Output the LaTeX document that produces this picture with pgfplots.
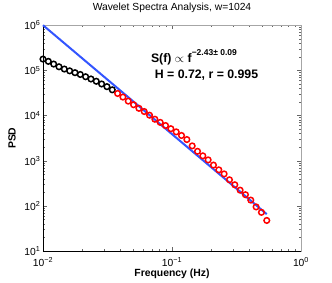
\documentclass[border=0pt]{standalone}
\usepackage{fontspec}
\setmainfont{Liberation Sans}
\usepackage{pgfplots}
\pgfplotsset{compat=1.18}
\definecolor{fitblue}{RGB}{51,85,255}
\begin{document}
\begin{tikzpicture}[x=1pt,y=1pt]
\path (-43,-31) rectangle (289,247);
\begin{axis}[
  at={(0,0)}, anchor=south west,
  scale only axis, width=258pt, height=226pt,
  xmode=log, ymode=log,
  xmin=0.01, xmax=1, ymin=10, ymax=1e6,
  tick align=inside, xtick pos=both, ytick pos=both,
  major tick length=4pt, minor tick length=2pt,
  tick style={gray!80!black, line width=0.5pt},
  xtick={0.01,0.1,1},
  xticklabels={10\textsuperscript{\textminus2},10\textsuperscript{\textminus1},10\textsuperscript{0}},
  ytick={10,100,1000,10000,100000,1000000},
  yticklabels={10\textsuperscript{1},10\textsuperscript{2},10\textsuperscript{3},10\textsuperscript{4},10\textsuperscript{5},10\textsuperscript{6}},
  tick label style={font=\fontsize{10.3}{11}\selectfont},
  xticklabel style={yshift=-3pt},
  yticklabel style={xshift=1pt},
  title={Wavelet Spectra Analysis, w=1024},
  title style={font=\fontsize{10.3}{11}\selectfont, at={(axis description cs:0.5,1.049)}, anchor=center},
  xlabel={\textbf{Frequency (Hz)}},
  xlabel style={font=\fontsize{10.4}{11}\selectfont, at={(axis description cs:0.5,-0.102)}, anchor=center},
  ylabel={\textbf{PSD}},
  ylabel style={font=\fontsize{10.4}{11}\selectfont, at={(axis description cs:-0.12,0.5)}, anchor=center},
  axis line style={gray!70, line width=0.6pt},
  clip=false,
]
\draw[black, line width=0.7pt] (rel axis cs:1,0) -- (rel axis cs:0,0) -- (rel axis cs:0,1);
\addplot[only marks, mark=o, mark size=2.8pt, mark options={line width=1.5pt, draw=black}] coordinates {
(0.01000,1.78e5) (0.01100,1.585e5) (0.01210,1.380e5) (0.01330,1.202e5) (0.01463,1.072e5)
(0.01609,9.77e4) (0.01770,8.91e4) (0.01946,8.13e4) (0.02140,7.24e4) (0.02354,6.46e4)
(0.02588,5.75e4) (0.02847,5.01e4) (0.03131,4.37e4) (0.03444,3.72e4)
};
\addplot[only marks, mark=o, mark size=2.8pt, mark options={line width=1.5pt, draw=red}] coordinates {
(0.03787,3.09e4) (0.04165,2.57e4) (0.04580,2.09e4) (0.05036,1.74e4) (0.05539,1.45e4)
(0.06091,1.23e4) (0.06699,1.02e4) (0.07367,8318) (0.08102,7079) (0.08911,6026)
(0.09799,5129) (0.1078,4365) (0.1185,3631) (0.1304,2951) (0.1434,2138)
(0.1577,1622) (0.1734,1288) (0.1907,1047) (0.2097,804) (0.2306,631)
(0.2536,513) (0.2789,380) (0.3068,295) (0.3374,224) (0.3710,178)
(0.4081,135) (0.4488,95.5) (0.4935,72.4) (0.5428,47.9)
};
\addplot[fitblue, line width=2pt] coordinates {(0.01,1e6) (0.5428,66)};
\node[anchor=base west, font=\bfseries\fontsize{12.3}{13}\selectfont] at (axis description cs:0.405,0.835)
  {S(f) $\propto$ f\raisebox{0.55em}{\fontsize{8.5}{9}\selectfont\bfseries\textminus2.43± 0.09}};
\node[anchor=base west, font=\bfseries\fontsize{12.3}{13}\selectfont] at (axis description cs:0.42,0.765)
  {H = 0.72, r = 0.995};
\end{axis}
\end{tikzpicture}
\end{document}
